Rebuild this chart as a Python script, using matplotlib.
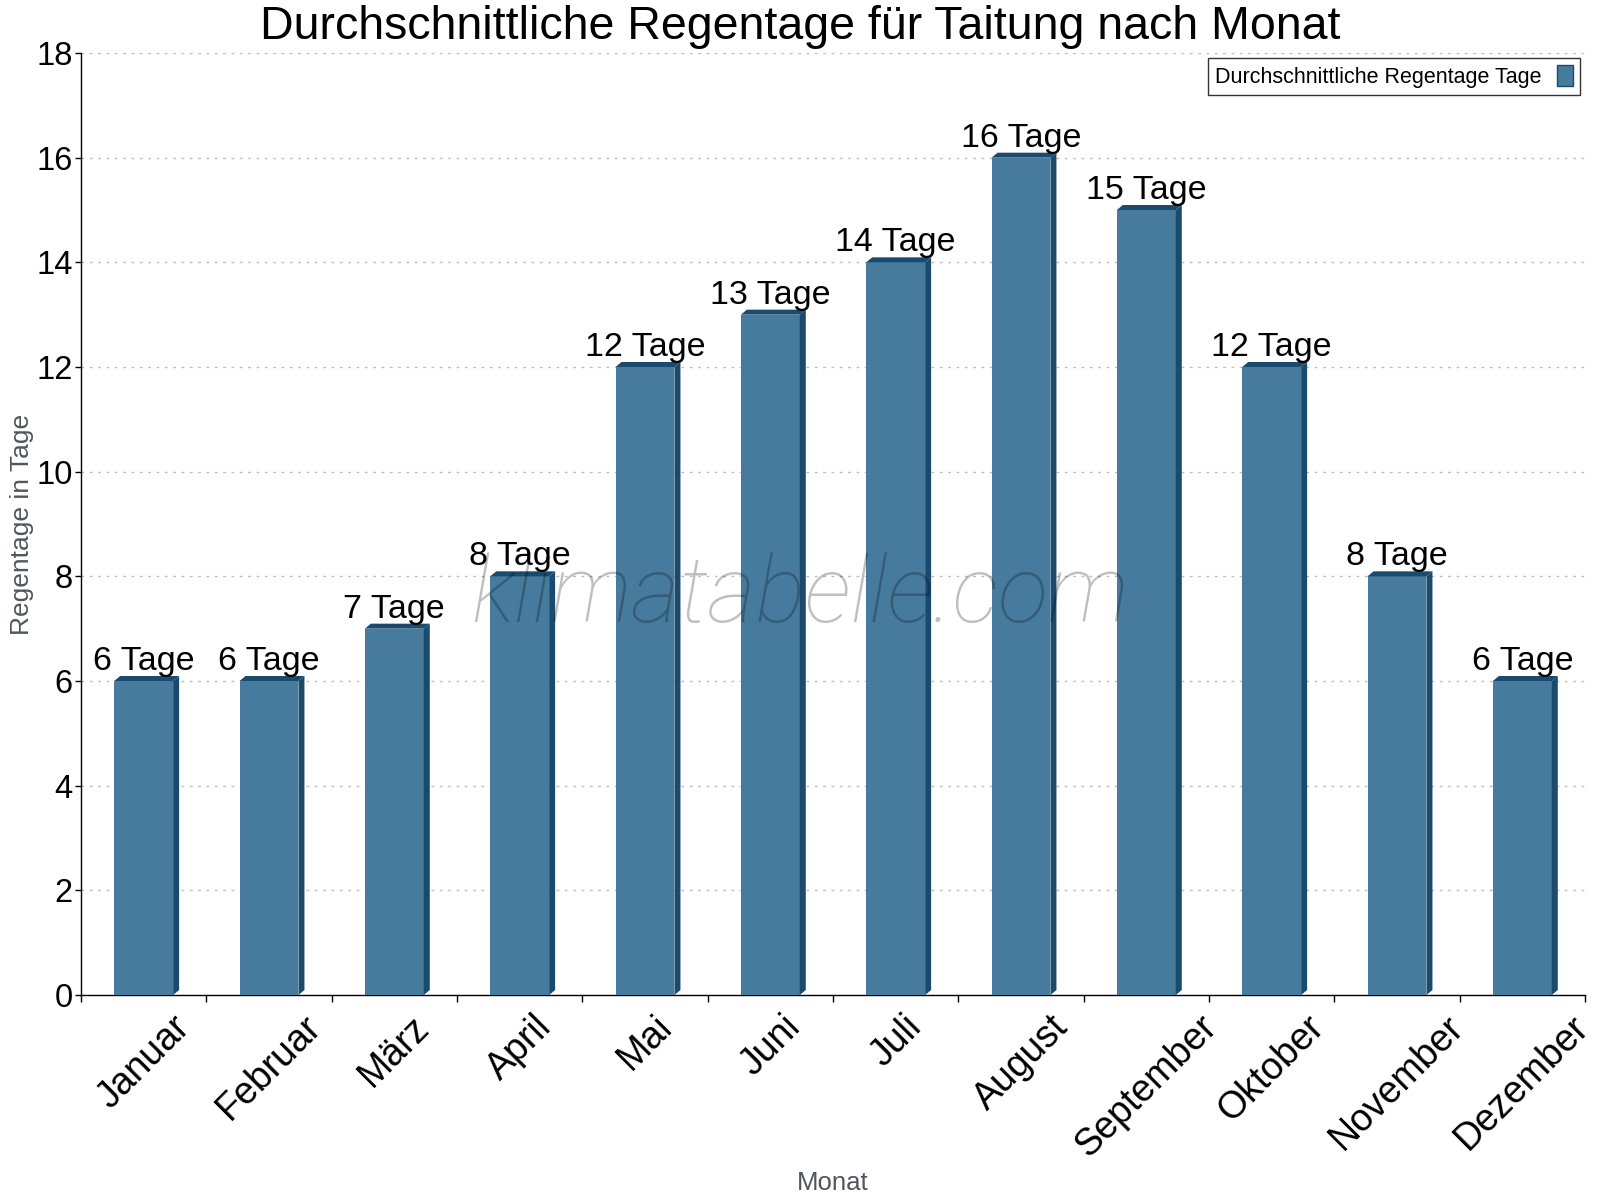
import matplotlib
matplotlib.use("Agg")
import matplotlib.pyplot as plt
from matplotlib.patches import Polygon, Patch
import numpy as np

months = ["Januar", "Februar", "März", "April", "Mai", "Juni", "Juli",
          "August", "September", "Oktober", "November", "Dezember"]
rain_days = [6, 6, 7, 8, 12, 13, 14, 16, 15, 12, 8, 6]
y_ticks = [0, 2, 4, 6, 8, 10, 12, 14, 16, 18]

title = "Durchschnittliche Regentage für Taitung nach Monat"
legend_label = "Durchschnittliche Regentage Tage"
x_label = "Monat"
y_label = "Regentage in Tage"
unit = "Tage"

FRONT = "#467B9E"
DARK = "#1A4B6E"
GREY_TXT = "#50565d"

plt.rcParams['font.family'] = ['Liberation Sans', 'DejaVu Sans']

fig = plt.figure(figsize=(16, 12), dpi=100)
ax = fig.add_axes([81/1600, 1 - 995/1200, 1504/1600, 942/1200])

n = len(months)
x = np.arange(n)
width = 0.47
ax.set_xlim(-0.5, n - 0.5)
ax.set_ylim(0, 18)

ax.bar(x, rain_days, width=width, color=FRONT, zorder=3)

# 3D depth in pixels converted to data units
bbox = ax.get_window_extent()
dx = 6 * (n / bbox.width)
dy = 5 * (18 / bbox.height)
for xi, h in zip(x, rain_days):
    x0, x1 = xi - width / 2, xi + width / 2
    side = Polygon([(x1, 0), (x1 + dx, dy), (x1 + dx, h + dy), (x1, h)],
                   closed=True, facecolor=DARK, edgecolor='none', zorder=3)
    top = Polygon([(x0, h), (x0 + dx, h + dy), (x1 + dx, h + dy), (x1, h)],
                  closed=True, facecolor=DARK, edgecolor='none', zorder=3)
    ax.add_patch(side)
    ax.add_patch(top)
    ax.annotate(f"{h} {unit}", xy=(xi, h), xytext=(0, 8), textcoords='offset points',
                ha='center', va='baseline', fontsize=24.5, color='black', zorder=5)

# axes styling
for s in ['top', 'right']:
    ax.spines[s].set_visible(False)
for s in ['left', 'bottom']:
    ax.spines[s].set_color('black')
    ax.spines[s].set_linewidth(1.0)

ax.set_yticks(y_ticks)
ax.set_yticklabels([str(v) for v in y_ticks], fontsize=23.5)
ax.tick_params(axis='y', direction='out', length=4, width=1, pad=2)
ax.yaxis.grid(True, linestyle=(0, (2, 4)), color='#bdbdbd', linewidth=1, zorder=0)
ax.set_axisbelow(True)

ax.set_xticks(np.arange(-0.5, n, 1.0))
ax.set_xticklabels([])
ax.tick_params(axis='x', which='major', direction='out', length=5, width=1)
ax.set_xticks(x, minor=True)
ax.set_xticklabels(months, minor=True, rotation=45, fontsize=27)
ax.tick_params(axis='x', which='minor', length=0, pad=10)

ax.set_xlabel(x_label, fontsize=18.5, color=GREY_TXT)
ax.set_ylabel(y_label, fontsize=19, color=GREY_TXT)
ax.xaxis.set_label_coords(0.5, -0.2)
ax.xaxis.label.set_va('center')
ax.yaxis.set_label_coords(-0.039, 0.5)
ax.yaxis.label.set_va('center')

fig.text(0.5, 1 - 39/1200, title, ha='center', va='baseline', fontsize=33.5, color='black')

# watermark
fig.text(0.5, 1 - 597/1200, "klimatabelle.com", ha='center', va='center',
         fontsize=67, family=['Roboto', 'DejaVu Sans'], fontweight='light',
         style='italic', color='black', alpha=0.25, zorder=10)

handle = Patch(facecolor=FRONT, edgecolor=DARK, linewidth=1)
leg = ax.legend([handle], [legend_label], loc='upper right', markerfirst=False,
                fontsize=15.5, frameon=True, fancybox=False, handlelength=0.75,
                handleheight=1.1, borderaxespad=0.0, borderpad=0.35,
                handletextpad=0.7, bbox_to_anchor=(0.997, 0.995))
leg.get_frame().set_edgecolor('black')
leg.get_frame().set_linewidth(1)

fig.savefig("out.png", dpi=100)
